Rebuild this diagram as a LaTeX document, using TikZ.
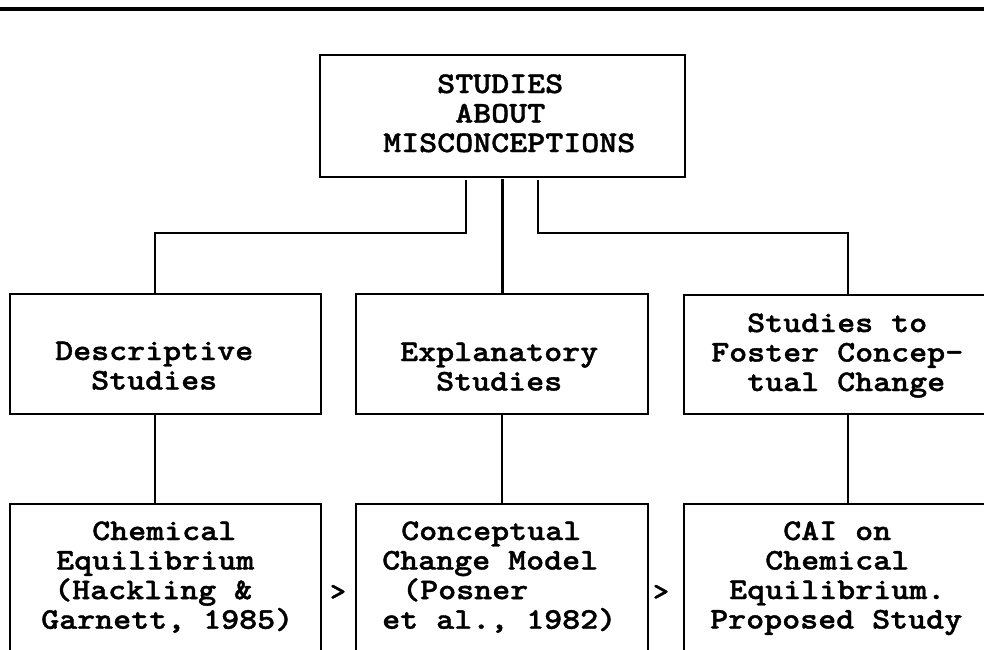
\documentclass[tikz,border=0pt]{standalone}
\usepackage{fontspec}
\newfontfamily\labfont{lmmonolt10-bold.otf}[FakeStretch=1.143,FakeBold=1.3]
\newcommand\indt[1]{\hspace*{#1pt}}
\begin{document}
\begin{tikzpicture}[x=1pt,y=-1pt,
  box/.style={draw, line width=2.2pt, rectangle, anchor=north west, inner sep=0pt},
  conn/.style={line width=2pt},
  mainconn/.style={line width=2.8pt},
  txt/.style={anchor=base west, inner sep=0pt, font=\labfont\fontsize{30}{29.5}\selectfont},
  gt/.style={anchor=base, inner sep=0pt, font=\labfont\fontsize{27}{29.5}\selectfont}]
\useasboundingbox (0,0) rectangle (984,649);
\fill[white] (0,0) rectangle (984,649);
\clip (0,0) rectangle (984,649);
% top rule
\coordinate (rl) at (-5,9);
\coordinate (rr) at (990,9);
\draw[line width=3.5pt] (rl) -- (rr);
% boxes
\node[box, minimum width=365pt, minimum height=122pt] (top) at (319,54) {};
\node[box, minimum width=311pt, minimum height=120pt] (desc) at (9,293) {};
\node[box, minimum width=292pt, minimum height=120pt] (expl) at (355,293) {};
\node[box, minimum width=400pt, minimum height=119pt] (fost) at (683,294) {};
\node[box, minimum width=311pt, minimum height=200pt] (chem) at (9,503) {};
\node[box, minimum width=292pt, minimum height=200pt] (conc) at (355,503) {};
\node[box, minimum width=400pt, minimum height=200pt] (cai) at (683,503) {};
% texts
\node[txt] (ttop) at (383,93) {\begin{tabular}[t]{@{}l@{}}\indt{54}STUDIES\\ \indt{72}ABOUT\\ MISCONCEPTIONS\end{tabular}};
\node[txt] (tdesc) at (55,360) {\begin{tabular}[t]{@{}l@{}}Descriptive\\ \indt{36}Studies\end{tabular}};
\node[txt] (texpl) at (400,361) {\begin{tabular}[t]{@{}l@{}}Explanatory\\ \indt{36}Studies\end{tabular}};
\node[txt] (tfost) at (711,332) {\begin{tabular}[t]{@{}l@{}}\indt{36}Studies to\\ Foster Concep-\\ \indt{36}tual Change\end{tabular}};
\node[txt] (tchem) at (41,540) {\begin{tabular}[t]{@{}l@{}}\indt{51}Chemical\\ \indt{15}Equilibrium\\ \indt{13}(Hackling \&\\ Garnett, 1985)\end{tabular}};
\node[txt] (tconc) at (382,540) {\begin{tabular}[t]{@{}l@{}}\indt{19}Conceptual\\ Change Model\\ \indt{20}(Posner\\ et al., 1982)\end{tabular}};
\node[txt] (tcai) at (710,540) {\begin{tabular}[t]{@{}l@{}}\indt{73}CAI on\\ \indt{55}Chemical\\ \indt{19}Equilibrium.\\ Proposed Study\end{tabular}};
\node[gt] (gt1) at (338,600) {>};
\node[gt] (gt2) at (661,600) {>};
% connectors
\coordinate (lj) at (155,233);
\coordinate (rj) at (848,233);
\draw[conn] ([yshift=-2pt]top.south -| 466,0) |- (lj) -- (desc.north -| lj);
\draw[mainconn] ([yshift=-1pt]top.south) -- (expl.north -| top.south);
\draw[conn] ([yshift=-2pt]top.south -| 538,0) |- (rj) -- (fost.north -| rj);
\draw[conn] (desc.south -| lj) -- (chem.north -| lj);
\draw[conn] (expl.south -| 502,0) -- (conc.north -| 502,0);
\draw[conn] (fost.south -| rj) -- (cai.north -| rj);
\end{tikzpicture}
\end{document}
